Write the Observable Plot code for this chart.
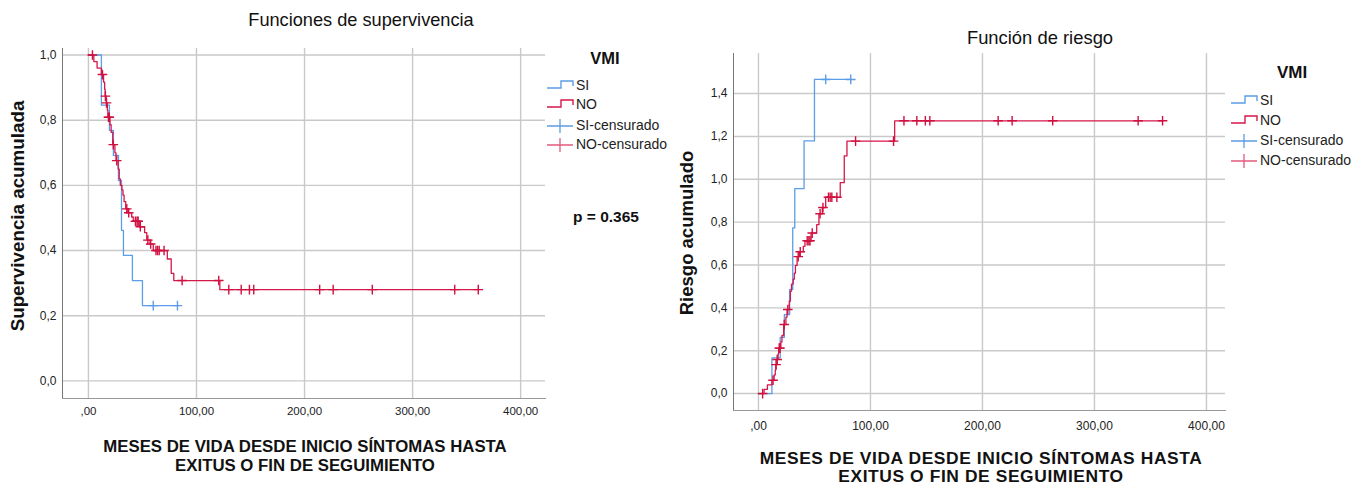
<!DOCTYPE html>
<html><head><meta charset="utf-8">
<script src="https://cdn.jsdelivr.net/npm/d3@7"></script>
<script src="https://cdn.jsdelivr.net/npm/@observablehq/plot@0.6"></script>
<style>
body{margin:0;background:#fff;font-family:"Liberation Sans",Arial,sans-serif;}
#wrap{position:relative;width:1368px;height:486px;overflow:hidden;background:#fff;}
.abs{position:absolute;white-space:nowrap;color:#111;transform:translate(-50%,-50%);line-height:1;}
.rot{transform:translate(-50%,-50%) rotate(-90deg);}
.plot{position:absolute;top:0;}
.leg{position:absolute;font-size:14px;color:#222;white-space:nowrap;}
.leg svg{vertical-align:middle;}
</style></head><body><div id="wrap"></div>
<script>
// ---- data ----
const groups = ["SI", "NO"];
const siTime = [0, 12, 19.4, 23.1, 27.8, 30.6, 32.4, 40.7, 50, 82.4];
const siSurv = [1, 0.846, 0.769, 0.692, 0.615, 0.462, 0.385, 0.308, 0.231, 0.231];
const siHaz  = [0, 0.167, 0.262, 0.368, 0.486, 0.773, 0.956, 1.179, 1.466, 1.466];
const siCensTime = [60, 82.4];
const siCensSurv = [0.231, 0.231];
const siCensHaz  = [1.466, 1.466];

const noTime = [0, 5, 8, 12, 14, 15, 15.5, 16.5, 17.5, 18, 20, 21, 22.5, 24.5, 25.5, 27.5, 28.5, 29.5, 31, 32, 33, 34.5, 36.5, 40, 41.5, 47, 52, 54, 57, 60, 73, 76.6, 79, 121.6, 360.8];
const noSurv = [1, 0.98, 0.96, 0.94, 0.917, 0.895, 0.874, 0.853, 0.831, 0.809, 0.786, 0.763, 0.725, 0.70, 0.676, 0.65, 0.62, 0.60, 0.586, 0.57, 0.55, 0.528, 0.516, 0.503, 0.49, 0.473, 0.455, 0.432, 0.42, 0.40, 0.374, 0.33, 0.308, 0.28, 0.28];
const noHaz  = [0, 0.020, 0.041, 0.062, 0.087, 0.111, 0.135, 0.159, 0.185, 0.212, 0.241, 0.271, 0.322, 0.357, 0.392, 0.431, 0.478, 0.511, 0.534, 0.562, 0.598, 0.639, 0.662, 0.687, 0.713, 0.749, 0.788, 0.839, 0.868, 0.916, 0.984, 1.109, 1.178, 1.273, 1.273];
const noCensTime = [3.7, 13, 15.7, 16.7, 18.5, 19.3, 23, 26.2, 35.5, 37.3, 43.5, 45, 46, 48, 55, 57.6, 62.5, 64, 65.5, 70, 86.7, 120.6, 129.9, 141.4, 149, 153, 214, 226.5, 262.7, 339, 360.8];
const noCensSurv = [1, 0.94, 0.874, 0.853, 0.809, 0.809, 0.725, 0.676, 0.528, 0.516, 0.49, 0.49, 0.49, 0.473, 0.432, 0.42, 0.40, 0.40, 0.40, 0.40, 0.308, 0.308, 0.28, 0.28, 0.28, 0.28, 0.28, 0.28, 0.28, 0.28, 0.28];
const noCensHaz  = [0, 0.062, 0.135, 0.159, 0.212, 0.212, 0.322, 0.392, 0.639, 0.662, 0.713, 0.713, 0.713, 0.749, 0.839, 0.868, 0.916, 0.916, 0.916, 0.916, 1.178, 1.178, 1.273, 1.273, 1.273, 1.273, 1.273, 1.273, 1.273, 1.273, 1.273];

const xTicks = [0, 100, 200, 300, 400];
const survTicks = [0, 0.2, 0.4, 0.6, 0.8, 1.0];
const hazTicks = [0, 0.2, 0.4, 0.6, 0.8, 1.0, 1.2, 1.4];
const legendLabels = ["SI", "NO", "SI-censurado", "NO-censurado"];

const BLUE = "#5b9de6", RED = "#d6174a", RED_C = "#d0103f", RED_LEG = "#e35a7d";
const fx = d => d === 0 ? ",00" : d.toFixed(2).replace(".", ",");
const fy = d => d.toFixed(1).replace(".", ",");

const rows = (t, v) => t.map((x, i) => ({t: x, v: v[i]}));

function chart({width, ml, mr, mt, mb, xdom, ydom, yticks, si, no, siC, noC, xPad, xFont, yFont}) {
  return Plot.plot({
    width, height: 486, marginLeft: ml, marginRight: mr, marginTop: mt, marginBottom: mb,
    x: {domain: xdom}, y: {domain: ydom},
    style: {fontFamily: '"Liberation Sans", Arial, sans-serif', background: "transparent", overflow: "visible"},
    marks: [
      Plot.gridX(xTicks, {stroke: "#c9c9c9", strokeOpacity: 1, strokeWidth: 1.4}),
      Plot.gridY(yticks, {stroke: "#c9c9c9", strokeOpacity: 1, strokeWidth: 1.4}),
      Plot.frame({anchor: "left", stroke: "#777"}),
      Plot.frame({anchor: "bottom", stroke: "#999"}),
      Plot.axisX(xTicks, {tickSize: 0, tickPadding: xPad, tickFormat: fx, label: null, fontSize: xFont, fill: "#222"}),
      Plot.axisY(yticks, {tickSize: 0, tickPadding: 6, tickFormat: fy, label: null, fontSize: yFont, fill: "#222"}),
      Plot.line(si, {x: "t", y: "v", curve: "step-after", stroke: BLUE, strokeWidth: 1.3}),
      Plot.line(no, {x: "t", y: "v", curve: "step-after", stroke: RED, strokeWidth: 1.3}),
      Plot.dot(siC, {x: "t", y: "v", symbol: "plus", r: 3.2, stroke: BLUE, strokeWidth: 1.4}),
      Plot.dot(noC, {x: "t", y: "v", symbol: "plus", r: 3.2, stroke: RED_C, strokeWidth: 1.4})
    ]
  });
}

const wrap = document.getElementById("wrap");

const left = chart({width: 684, ml: 62, mr: 139, mt: 48, mb: 88, xdom: [-24, 423], ydom: [-0.054, 1.02], yticks: survTicks,
  si: rows(siTime, siSurv), no: rows(noTime, noSurv), siC: rows(siCensTime, siCensSurv), noC: rows(noCensTime, noCensSurv), xPad: 8, xFont: 11.5, yFont: 12});
left.classList.add("plot"); left.style.left = "0px";
wrap.appendChild(left);

const right = chart({width: 684, ml: 49, mr: 143, mt: 53, mb: 76, xdom: [-22.3, 417], ydom: [-0.079, 1.587], yticks: hazTicks,
  si: rows(siTime, siHaz), no: rows(noTime, noHaz), siC: rows(siCensTime, siCensHaz), noC: rows(noCensTime, noCensHaz), xPad: 11, xFont: 12, yFont: 12});
right.classList.add("plot"); right.style.left = "684px";
wrap.appendChild(right);

function txt(s, x, y, css, cls) {
  const d = document.createElement("div");
  d.className = "abs" + (cls ? " " + cls : "");
  d.textContent = s;
  d.style.left = x + "px"; d.style.top = y + "px";
  Object.assign(d.style, css || {});
  wrap.appendChild(d);
}
txt("Funciones de supervivencia", 361, 20, {fontSize: "18.2px"});
txt("Función de riesgo", 1040, 38, {fontSize: "18.4px"});
txt("Supervivencia acumulada", 18, 216, {fontSize: "18.8px", fontWeight: "bold"}, "rot");
txt("Riesgo acumulado", 687, 233, {fontSize: "18.5px", fontWeight: "bold"}, "rot");
txt("MESES DE VIDA DESDE INICIO SÍNTOMAS HASTA", 305, 447, {fontSize: "16.8px", fontWeight: "bold"});
txt("EXITUS O FIN DE SEGUIMIENTO", 305, 466, {fontSize: "16.8px", fontWeight: "bold"});
txt("MESES DE VIDA DESDE INICIO SÍNTOMAS HASTA", 981, 459, {fontSize: "17.4px", fontWeight: "bold", letterSpacing: "0.6px"});
txt("EXITUS O FIN DE SEGUIMIENTO", 981, 477, {fontSize: "17.4px", fontWeight: "bold", letterSpacing: "0.6px"});
txt("p = 0.365", 606, 217, {fontSize: "15.5px", fontWeight: "bold"});
txt("VMI", 605, 58, {fontSize: "16.5px", fontWeight: "bold"});
txt("VMI", 1292, 72, {fontSize: "17px", fontWeight: "bold"});

function legend(x0, ys) {
  const icons = [
    `<path d="M0,9 H14 V2 H26 V7" fill="none" stroke="${BLUE}" stroke-width="1.4"/>`,
    `<path d="M0,9 H14 V2 H26 V7" fill="none" stroke="${RED}" stroke-width="1.4"/>`,
    `<path d="M0,7 H26 M13,0 V14" fill="none" stroke="${BLUE}" stroke-width="1.3"/>`,
    `<path d="M0,7 H26 M13,0 V14" fill="none" stroke="${RED_LEG}" stroke-width="1.3"/>`
  ];
  legendLabels.forEach((lab, i) => {
    const d = document.createElement("div");
    d.className = "leg";
    d.style.left = x0 + "px"; d.style.top = (ys[i] - 9) + "px";
    d.innerHTML = `<svg width="27" height="14" style="margin-right:2px">${icons[i]}</svg><span>${lab}</span>`;
    wrap.appendChild(d);
  });
}
legend(547, [86, 105, 126, 145]);
legend(1231, [101, 121, 141, 161]);
</script></body></html>
